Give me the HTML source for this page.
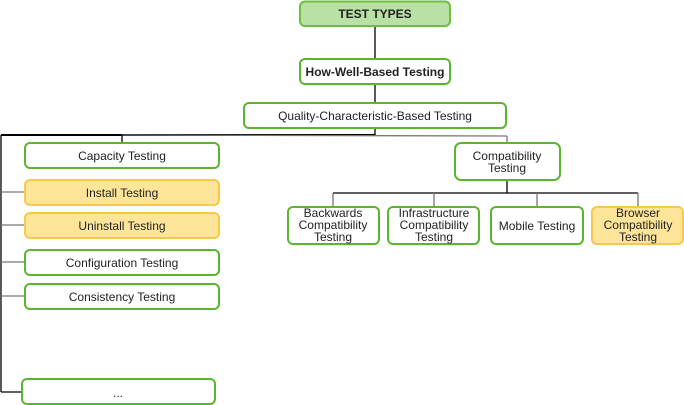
<!DOCTYPE html>
<html><head><meta charset="utf-8"><style>
html,body{margin:0;padding:0;background:#fff;}
svg{display:block;}
text{font-family:"Liberation Sans",Arial,sans-serif;font-size:12px;fill:#222;text-anchor:middle;}
</style></head><body>
<svg width="684" height="405" viewBox="0 0 684 405" xmlns="http://www.w3.org/2000/svg">
<g fill="none" stroke-width="1.3">
<line x1="375" y1="26" x2="375" y2="59" stroke="#000"/>
<line x1="375" y1="84" x2="375" y2="103" stroke="#000"/>
<line x1="375" y1="128" x2="375" y2="135" stroke="#000"/>
<line x1="1" y1="135" x2="375" y2="135" stroke="#000" stroke-width="2"/>
<line x1="122" y1="135" x2="507" y2="136" stroke="#777"/>
<line x1="122" y1="135" x2="122" y2="143" stroke="#000"/>
<line x1="507" y1="136" x2="507" y2="143" stroke="#777"/>
<line x1="1" y1="135" x2="1" y2="392" stroke="#000"/>
<line x1="1" y1="392" x2="22" y2="392" stroke="#000"/>
<line x1="1" y1="192" x2="25" y2="192" stroke="#777"/>
<line x1="1" y1="225" x2="25" y2="225" stroke="#777"/>
<line x1="1" y1="262" x2="25" y2="262" stroke="#777"/>
<line x1="1" y1="296" x2="25" y2="296" stroke="#777"/>
<line x1="507" y1="180" x2="507" y2="193" stroke="#000"/>
<line x1="333" y1="193" x2="638" y2="193" stroke="#000"/>
<line x1="333" y1="193" x2="333" y2="207" stroke="#777"/>
<line x1="434" y1="193" x2="434" y2="207" stroke="#777"/>
<line x1="537" y1="193" x2="537" y2="207" stroke="#777"/>
<line x1="638" y1="193" x2="638" y2="207" stroke="#777"/>
</g>
<g stroke-width="2">
<rect x="300" y="1.5" width="150" height="24.5" rx="5" fill="#b9e0a5" stroke="#6cbf3f"/>
<rect x="300" y="59" width="150" height="25" rx="5" fill="#fff" stroke="#5bb52f"/>
<rect x="244" y="103" width="262" height="25" rx="5" fill="#fff" stroke="#5bb52f"/>
<rect x="25" y="143" width="194" height="25" rx="5" fill="#fff" stroke="#5bb52f"/>
<rect x="25" y="180" width="194" height="25" rx="5" fill="#ffe599" stroke="#f7c94a"/>
<rect x="25" y="213" width="194" height="25" rx="5" fill="#ffe599" stroke="#f7c94a"/>
<rect x="25" y="250" width="194" height="25" rx="5" fill="#fff" stroke="#5bb52f"/>
<rect x="25" y="284" width="194" height="25" rx="5" fill="#fff" stroke="#5bb52f"/>
<rect x="22" y="379" width="193" height="25" rx="5" fill="#fff" stroke="#5bb52f"/>
<rect x="455" y="143" width="105" height="37" rx="6" fill="#fff" stroke="#5bb52f"/>
<rect x="288" y="207" width="91" height="37" rx="5" fill="#fff" stroke="#5bb52f"/>
<rect x="388" y="207" width="91" height="37" rx="5" fill="#fff" stroke="#5bb52f"/>
<rect x="491" y="207" width="92" height="37" rx="5" fill="#fff" stroke="#5bb52f"/>
<rect x="592" y="207" width="91" height="37" rx="5" fill="#ffe599" stroke="#f7c94a"/>
</g>
<text x="375" y="18" font-weight="bold">TEST TYPES</text>
<text x="375" y="76" font-weight="bold">How-Well-Based Testing</text>
<text x="375" y="120">Quality-Characteristic-Based Testing</text>
<text x="122" y="160">Capacity Testing</text>
<text x="122" y="197">Install Testing</text>
<text x="122" y="230">Uninstall Testing</text>
<text x="122" y="267">Configuration Testing</text>
<text x="122" y="301">Consistency Testing</text>
<text x="118" y="397">...</text>
<text x="507" y="160">Compatibility</text>
<text x="507" y="172">Testing</text>
<text x="333" y="217">Backwards</text>
<text x="333" y="229">Compatibility</text>
<text x="333" y="241">Testing</text>
<text x="434" y="217">Infrastructure</text>
<text x="434" y="229">Compatibility</text>
<text x="434" y="241">Testing</text>
<text x="537" y="230">Mobile Testing</text>
<text x="638" y="217">Browser</text>
<text x="638" y="229">Compatibility</text>
<text x="638" y="241">Testing</text>
</svg>
</body></html>
